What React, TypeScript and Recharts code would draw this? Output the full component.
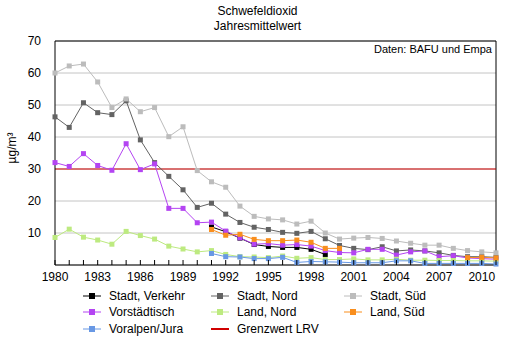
import { LineChart, Line, XAxis, YAxis, CartesianGrid, ReferenceLine } from "recharts";

const years = [
  1980, 1981, 1982, 1983, 1984, 1985, 1986, 1987, 1988, 1989, 1990,
  1991, 1992, 1993, 1994, 1995, 1996, 1997, 1998, 1999, 2000,
  2001, 2002, 2003, 2004, 2005, 2006, 2007, 2008, 2009, 2010, 2011,
];

const stadtVerkehr = [
  null, null, null, null, null, null, null, null, null, null, null,
  11.9, 10.4, 8.4, 6.4, 5.8, 5.5, 5.5, 4.9, 3.3, null,
  null, null, null, null, null, null, null, null, null, null, null,
];
const stadtNord = [
  46.3, 43.0, 50.7, 47.6, 47.0, 51.3, 39.1, 32.0, 27.7, 23.5, 18.0,
  19.3, 15.9, 13.3, 11.8, 11.1, 10.2, 9.9, 10.5, 8.2, 6.1,
  5.2, 4.8, 5.7, 4.4, 4.7, 4.4, 3.8, 3.0, 2.6, 2.6, 2.4,
];
const stadtSued = [
  60.0, 62.2, 62.8, 57.2, 49.2, 51.9, 47.9, 49.2, 40.1, 43.2, 29.5,
  26.0, 24.3, 18.4, 15.2, 14.4, 14.1, 12.8, 13.7, 10.0, 8.1,
  8.4, 8.6, 8.3, 7.5, 6.8, 6.2, 6.2, 5.2, 4.5, 4.1, 3.8,
];
const vorstaedtisch = [
  32.0, 30.8, 34.8, 31.1, 29.6, 37.9, 29.8, 31.6, 17.7, 17.7, 13.2,
  13.4, 10.6, 8.5, 6.5, 6.7, 6.2, 6.4, 5.9, 4.5, 3.9,
  3.8, 4.9, 4.9, 3.1, 4.1, 4.4, 2.6, 2.9, 2.2, 2.0, 1.8,
];
const landNord = [
  8.6, 11.2, 8.7, 7.8, 6.5, 10.5, 9.2, 8.1, 5.9, 5.0, 4.1,
  4.5, 3.3, 2.6, 2.5, 2.3, 2.8, 2.1, 2.3, 1.7, 1.7,
  1.9, 1.6, 1.6, 1.8, 1.5, 1.5, 1.4, 1.4, 1.3, 1.3, 1.2,
];
const landSued = [
  null, null, null, null, null, null, null, null, null, null, null,
  11.1, 9.3, 9.6, 8.0, 7.6, 7.6, 7.8, 7.1, 5.2, 5.2,
  null, null, null, null, null, null, null, null, 2.3, 2.4, 2.2,
];
const voralpenJura = [
  null, null, null, null, null, null, null, null, null, null, null,
  3.6, 2.6, 2.5, 2.0, 2.0, 2.4, 0.8, 1.1, 1.0, 0.9,
  0.7, 0.7, 0.7, 1.3, 1.3, 0.5, 0.5, 0.5, 0.5, 0.5, 0.3,
];
const grenzwert = 30;
const yTicks = [0, 10, 20, 30, 40, 50, 60, 70];

const series = [
  { key: "stadtVerkehr", name: "Stadt, Verkehr", color: "#000000", values: stadtVerkehr },
  { key: "stadtNord", name: "Stadt, Nord", color: "#636363", values: stadtNord },
  { key: "stadtSued", name: "Stadt, Süd", color: "#bcbcbc", values: stadtSued },
  { key: "vorstaedtisch", name: "Vorstädtisch", color: "#b444f2", values: vorstaedtisch },
  { key: "landNord", name: "Land, Nord", color: "#bdea80", values: landNord },
  { key: "landSued", name: "Land, Süd", color: "#f98e1d", values: landSued },
  { key: "voralpenJura", name: "Voralpen/Jura", color: "#6898e4", values: voralpenJura },
];

const data = years.map((year, i) => {
  const row: Record<string, number | null> = { year };
  series.forEach((s) => {
    row[s.key] = s.values[i];
  });
  return row;
});

const FONT = '"Liberation Sans", Arial, sans-serif';
const RED = "#d00000";

function squareDot(color: string) {
  return (props: any) => {
    const { cx, cy, index } = props;
    if (cx == null || cy == null) return <g key={`e-${index}`} />;
    return <rect key={`d-${index}`} x={cx - 2.5} y={cy - 2.5} width={5} height={5} fill={color} />;
  };
}

function YearTick(props: any) {
  const { x, y, payload } = props;
  const yr = payload.value;
  return (
    <g>
      <line x1={x} x2={x} y1={y - 5} y2={y} stroke="#000" />
      {yr % 3 === 0 && (
        <text x={x} y={y + 16} textAnchor="middle" fontSize={12} fill="#000" fontFamily={FONT}>
          {yr}
        </text>
      )}
    </g>
  );
}

// legend: 3 columns, 3 rows
const legendItems = [
  { name: "Stadt, Verkehr", color: "#000000", col: 0, row: 0, dot: true },
  { name: "Stadt, Nord", color: "#636363", col: 1, row: 0, dot: true },
  { name: "Stadt, Süd", color: "#bcbcbc", col: 2, row: 0, dot: true },
  { name: "Vorstädtisch", color: "#b444f2", col: 0, row: 1, dot: true },
  { name: "Land, Nord", color: "#bdea80", col: 1, row: 1, dot: true },
  { name: "Land, Süd", color: "#f98e1d", col: 2, row: 1, dot: true },
  { name: "Voralpen/Jura", color: "#6898e4", col: 0, row: 2, dot: true },
  { name: "Grenzwert LRV", color: RED, col: 1, row: 2, dot: false },
];
const colX = [83, 211, 344];
const rowY = [296, 312, 329];

export default function App() {
  return (
    <div style={{ position: "absolute", left: 0, top: 0, width: 515, height: 345, fontFamily: FONT, background: "#fff" }}>
      <div style={{ position: "absolute", left: 0, top: 4, width: 515, textAlign: "center", fontSize: 12, lineHeight: "15px", color: "#000" }}>
        <div>Schwefeldioxid</div>
        <div>Jahresmittelwert</div>
      </div>
      <LineChart width={515} height={345} data={data} margin={{ top: 41, right: 19, left: 0, bottom: 0 }}>
        <CartesianGrid horizontal vertical={false} stroke="#c4c4c4" />
        <XAxis
          dataKey="year"
          type="number"
          domain={[1980, 2011]}
          ticks={years}
          height={80}
          tickSize={0}
          tickMargin={0}
          axisLine={{ stroke: "#000" }}
          tick={YearTick}
          interval={0}
        />
        <YAxis
          domain={[0, 70]}
          ticks={yTicks}
          width={55}
          tickLine={false}
          axisLine={{ stroke: "#000" }}
          tickMargin={8}
          tick={{ fontSize: 12, fill: "#000", fontFamily: FONT }}
          tickFormatter={(v: number) => (v === 0 ? "" : String(v))}
          interval={0}
        />
        <ReferenceLine y={70} stroke="#000" />
        <ReferenceLine x={2011} stroke="#000" />
        <ReferenceLine y={grenzwert} stroke={RED} strokeWidth={1} />
        {series.map((s) => (
          <Line
            key={s.key}
            dataKey={s.key}
            name={s.name}
            stroke={s.color}
            strokeWidth={1}
            dot={squareDot(s.color)}
            activeDot={false}
            isAnimationActive={false}
            connectNulls={false}
          />
        ))}
      </LineChart>
      <div style={{ position: "absolute", right: 23, top: 43, fontSize: 11, color: "#000" }}>Daten: BAFU und Empa</div>
      <div
        style={{
          position: "absolute",
          left: 12,
          top: 148,
          fontSize: 12,
          color: "#000",
          transform: "translate(-50%, -50%) rotate(-90deg)",
          whiteSpace: "nowrap",
        }}
      >
        µg/m³
      </div>
      {legendItems.map((it) => (
        <div
          key={it.name}
          style={{ position: "absolute", left: colX[it.col], top: rowY[it.row] - 8, height: 16, display: "flex", alignItems: "center", fontSize: 12, color: "#000", whiteSpace: "nowrap" }}
        >
          <svg width={18} height={16} style={{ marginRight: 8 }}>
            <line x1={0} x2={18} y1={8} y2={8} stroke={it.color} strokeWidth={it.dot ? 1 : 2} />
            {it.dot && <rect x={6} y={5} width={6} height={6} fill={it.color} />}
          </svg>
          <span>{it.name}</span>
        </div>
      ))}
    </div>
  );
}
